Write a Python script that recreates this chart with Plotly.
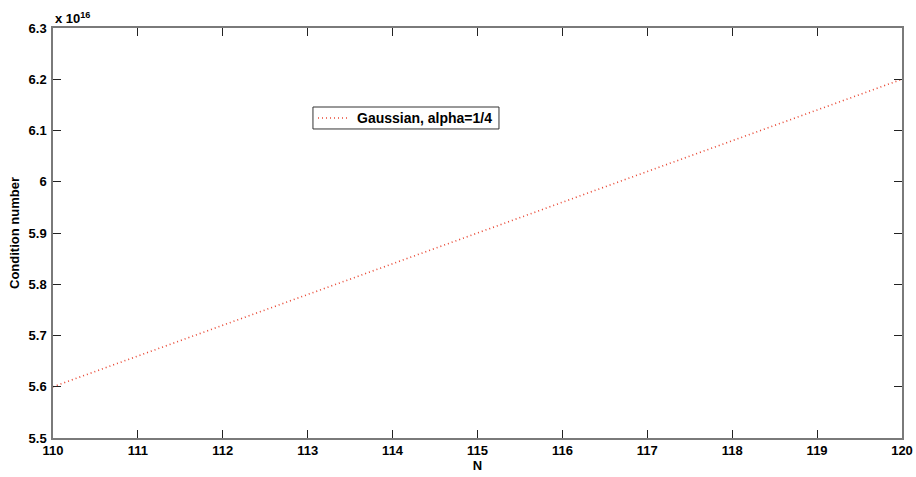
import plotly.graph_objects as go

# Matrix size and condition number (in units of 1e16)
N = [110, 111, 112, 113, 114, 115, 116, 117, 118, 119, 120]
cond_e16 = [5.60, 5.66, 5.72, 5.78, 5.84, 5.90, 5.96, 6.02, 6.08, 6.14, 6.20]

x_ticks = [110, 111, 112, 113, 114, 115, 116, 117, 118, 119, 120]
y_ticks = [5.5, 5.6, 5.7, 5.8, 5.9, 6.0, 6.1, 6.2, 6.3]
y_tick_text = ["5.5", "5.6", "5.7", "5.8", "5.9", "6", "6.1", "6.2", "6.3"]

series_name = "Gaussian, alpha=1/4"

font_family = "Liberation Sans, Arial, sans-serif"
line_color = "rgb(232,70,50)"
line_dash = "1px,3px"

fig = go.Figure()
fig.add_trace(go.Scatter(
    x=N, y=cond_e16, mode="lines", name=series_name, showlegend=False,
    line=dict(color=line_color, width=1.6, dash=line_dash),
))

axis_common = dict(
    showgrid=False, zeroline=False, automargin=False,
    showline=True, linecolor="#7a7a7a", linewidth=1.5, mirror="ticks",
    ticks="inside", ticklen=8, tickcolor="#222", tickwidth=1,
    tickfont=dict(family=font_family, size=13, color="black", weight="bold"),
)

fig.update_layout(
    width=916, height=477,
    margin=dict(l=53, r=14, t=28, b=39),
    paper_bgcolor="white", plot_bgcolor="white",
    font=dict(family=font_family, color="black"),
    xaxis=dict(range=[110, 120], tickvals=x_ticks, ticklabelstandoff=0,
               title=dict(text="<b>N</b>", font=dict(size=13), standoff=0),
               **axis_common),
    yaxis=dict(range=[5.5, 6.3], tickvals=y_ticks, ticktext=y_tick_text,
               ticklabelstandoff=2,
               title=dict(text="<b>Condition number</b>", font=dict(size=13), standoff=6),
               **axis_common),
    showlegend=False,
)

# Boxed legend in the upper-middle of the axes
fig.add_shape(type="rect", xref="paper", yref="paper",
              x0=0.3062, x1=0.5253, y0=0.7537, y1=0.8073,
              line=dict(color="#333", width=1), fillcolor="white", layer="above")
fig.add_shape(type="line", xref="paper", yref="paper",
              x0=0.3121, x1=0.3498, y0=0.7805, y1=0.7805,
              line=dict(color=line_color, width=1.6, dash=line_dash), layer="above")
fig.add_annotation(
    text=f"<b>{series_name}</b>", xref="paper", yref="paper",
    x=0.3557, y=0.7805, xanchor="left", yanchor="middle", showarrow=False,
    font=dict(size=14, family=font_family),
)

# Exponent multiplier above the y axis
fig.add_annotation(
    text="<b>x 10<sup>16</sup></b>", xref="paper", yref="paper",
    x=0.0, y=1.0, xanchor="left", yanchor="bottom", showarrow=False,
    font=dict(size=13, family=font_family),
)

fig.write_html("out.html")
